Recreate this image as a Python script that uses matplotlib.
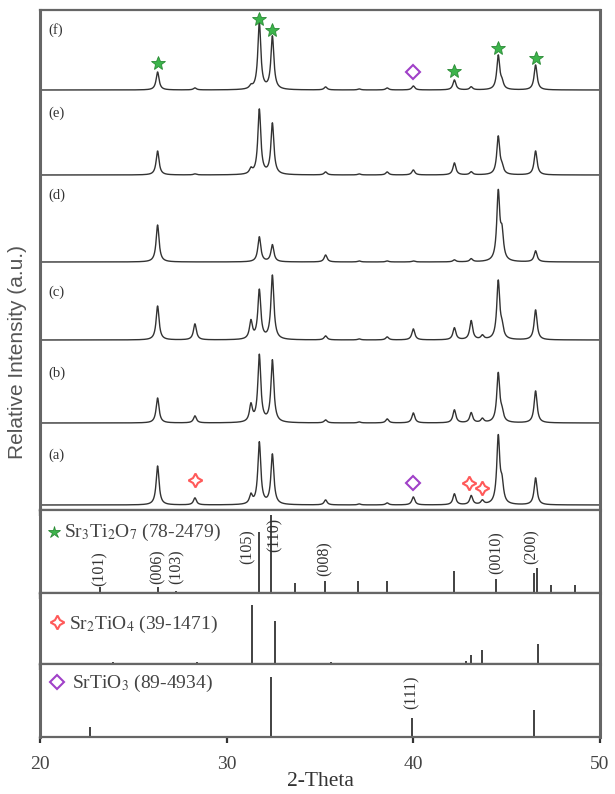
import matplotlib
matplotlib.use("Agg")
import matplotlib.pyplot as plt
import numpy as np

plt.rcParams["font.family"] = ["Liberation Serif", "DejaVu Serif"]
plt.rcParams["mathtext.fontset"] = "stix"

# XRD patterns: peak positions (2-theta) and heights
PEAK_POS = [26.3, 28.3, 31.3, 31.75, 32.45, 35.3, 37.1, 38.6, 40.0,
            42.2, 43.1, 43.7, 44.55, 44.75, 46.55]
SAMPLES = ["(a)", "(b)", "(c)", "(d)", "(e)", "(f)"]
HEIGHTS = {
    "(a)": [39, 7, 9, 62, 50, 5, 1, 2, 8, 11, 9, 4, 67, 18, 27],
    "(b)": [25, 7, 17, 67, 62, 3, 1, 4, 10, 13, 10, 4, 49, 8, 32],
    "(c)": [34, 16, 18, 49, 64, 4, 1, 3, 11, 12, 19, 4, 58, 10, 30],
    "(d)": [37, 0, 0, 25, 17, 7, 1, 1, 1, 2, 3, 0, 68, 25, 11],
    "(e)": [24, 1, 5, 65, 51, 3, 1, 3, 5, 12, 3, 0, 38, 6, 24],
    "(f)": [18, 2, 3, 67, 53, 3, 1, 2, 4, 10, 3, 0, 34, 6, 25],
}

# reference cards (stick patterns)
STO327_POS = [23.2, 26.3, 27.3, 31.75, 32.4, 33.65, 35.25, 37.05, 38.6,
              42.2, 44.45, 46.45, 46.6, 47.35, 48.65]
STO327_INT = [6, 6, 2, 61, 78, 10, 12, 12, 12, 22, 14, 20, 25, 8, 8]
STO214_POS = [23.9, 28.4, 31.35, 32.6, 35.6, 42.8, 43.1, 43.7, 46.7]
STO214_INT = [2, 2, 59, 43, 2, 3, 9, 14, 20]
STO113_POS = [22.7, 32.35, 39.95, 46.45]
STO113_INT = [10, 60, 19, 27]

STO327_HKL = ["(101)", "(006)", "(103)", "(105)", "(110)", "(008)", "(0010)", "(200)"]
STO327_HKL_X = [23.21, 26.32, 27.34, 31.14, 32.59, 35.27, 44.48, 46.36]
STO327_HKL_Y = [24, 26, 26, 46, 58, 34, 40, 46]

# phase markers on patterns (f) and (a)
F_STAR_X = [26.3, 31.75, 32.45, 42.2, 44.55, 46.55]
F_STAR_Y = [27, 71, 60, 19, 42, 32]
F_CUBIC_X = [40.0]
F_CUBIC_Y = [18]
A_RP_X = [28.3, 43.0, 43.7]
A_RP_Y = [25, 22, 17]
A_CUBIC_X = [40.0]
A_CUBIC_Y = [22]

OFFSETS = {"(a)": 5, "(b)": 87, "(c)": 170, "(d)": 248, "(e)": 335, "(f)": 420}
LABEL_Y = {"(a)": 55, "(b)": 137, "(c)": 218, "(d)": 315, "(e)": 397, "(f)": 480}

GREEN = "#3cb44b"
RED = "#ff5a5a"
PURPLE = "#a040c8"
FRAME = "#666666"
STAR4 = (4, 1, 0)


def pattern(x, pos, heights, fwhm=0.19):
    g = fwhm / 2.0
    y = np.zeros_like(x)
    for p, h in zip(pos, heights):
        y += h * g**2 / ((x - p) ** 2 + g**2)
    return y


fig = plt.figure(figsize=(6.15, 7.94), dpi=100)
gs = fig.add_gridspec(4, 1, height_ratios=[500, 83, 71, 73], hspace=0,
                      left=40 / 615, right=600 / 615,
                      top=1 - 10 / 794, bottom=1 - 737 / 794)
axes = [fig.add_subplot(gs[i]) for i in range(4)]
ax0, ax1, ax2, ax3 = axes

for ax in axes:
    ax.set_xlim(20, 50)
    ax.set_yticks([])
    ax.set_xticks([20, 30, 40, 50])
    ax.tick_params(axis="x", direction="out", length=4, width=1.6, pad=10,
                   colors="#333333", labelsize=14, labelcolor="#444444")
    for name, sp in ax.spines.items():
        sp.set_color(FRAME)
        sp.set_linewidth(1.6)
    ax.spines["left"].set_linewidth(2.2)
    ax.spines["right"].set_linewidth(2.2)
    if ax is not ax3:
        ax.tick_params(labelbottom=False)

# XRD patterns
x = np.arange(20.0, 50.0, 0.01)
for s in SAMPLES:
    y = OFFSETS[s] + pattern(x, PEAK_POS, HEIGHTS[s])
    ax0.plot(x, y, color="#333333", lw=1.0)
    ax0.text(20.45, LABEL_Y[s], s, fontsize=10.5, color="#333333",
             ha="left", va="center")
ax0.set_ylim(0, 500)

ax0.plot(F_STAR_X, np.array(F_STAR_Y) + OFFSETS["(f)"], ls="none", marker="*",
         ms=10, mfc=GREEN, mec="#2a8a35", mew=0.6)
ax0.plot(F_CUBIC_X, np.array(F_CUBIC_Y) + OFFSETS["(f)"], ls="none", marker="D",
         ms=7.5, mfc="none", mec=PURPLE, mew=1.5)
ax0.plot(A_RP_X, np.array(A_RP_Y) + OFFSETS["(a)"], ls="none", marker=STAR4,
         ms=10, mfc="none", mec=RED, mew=1.5)
ax0.plot(A_CUBIC_X, np.array(A_CUBIC_Y) + OFFSETS["(a)"], ls="none", marker="D",
         ms=7.5, mfc="none", mec=PURPLE, mew=1.5)

# stick patterns
ax1.vlines(STO327_POS, 0, STO327_INT, color="#333333", lw=1.3)
ax1.set_ylim(0, 83)
ax2.vlines(STO214_POS, 0, STO214_INT, color="#333333", lw=1.3)
ax2.set_ylim(0, 71)
ax3.vlines(STO113_POS, 0, STO113_INT, color="#333333", lw=1.3)
ax3.set_ylim(0, 73)

for lab, hx, hy in zip(STO327_HKL, STO327_HKL_X, STO327_HKL_Y):
    ax1.text(hx, hy, lab, rotation=90, fontsize=11.5, color="#333333",
             ha="center", va="center")
ax3.text(39.93, 45, "(111)", rotation=90, fontsize=11.5, color="#333333",
         ha="center", va="center")

# phase legends
ax1.plot([20.75], [61], ls="none", marker="*", ms=9, mfc=GREEN,
         mec="#2a8a35", mew=0.6)
ax1.text(21.3, 61, "Sr$_3$Ti$_2$O$_7$ (78-2479)", fontsize=14,
         color="#444444", ha="left", va="center")
ax2.plot([20.91], [42], ls="none", marker=STAR4, ms=10, mfc="none",
         mec=RED, mew=1.5)
ax2.text(21.55, 40, "Sr$_2$TiO$_4$ (39-1471)", fontsize=14,
         color="#444444", ha="left", va="center")
ax3.plot([20.91], [55], ls="none", marker="D", ms=7.5, mfc="none",
         mec=PURPLE, mew=1.5)
ax3.text(21.7, 54, "SrTiO$_3$ (89-4934)", fontsize=14,
         color="#444444", ha="left", va="center")

ax3.set_xlabel("2-Theta", fontsize=15.5, color="#333333", labelpad=-1)
fig.text(18 / 615, 1 - 352 / 794, "Relative Intensity (a.u.)", rotation=90,
         ha="center", va="center", fontsize=15, color="#555555",
         family=["Liberation Sans", "DejaVu Sans"])

fig.savefig("out.png", dpi=100)
